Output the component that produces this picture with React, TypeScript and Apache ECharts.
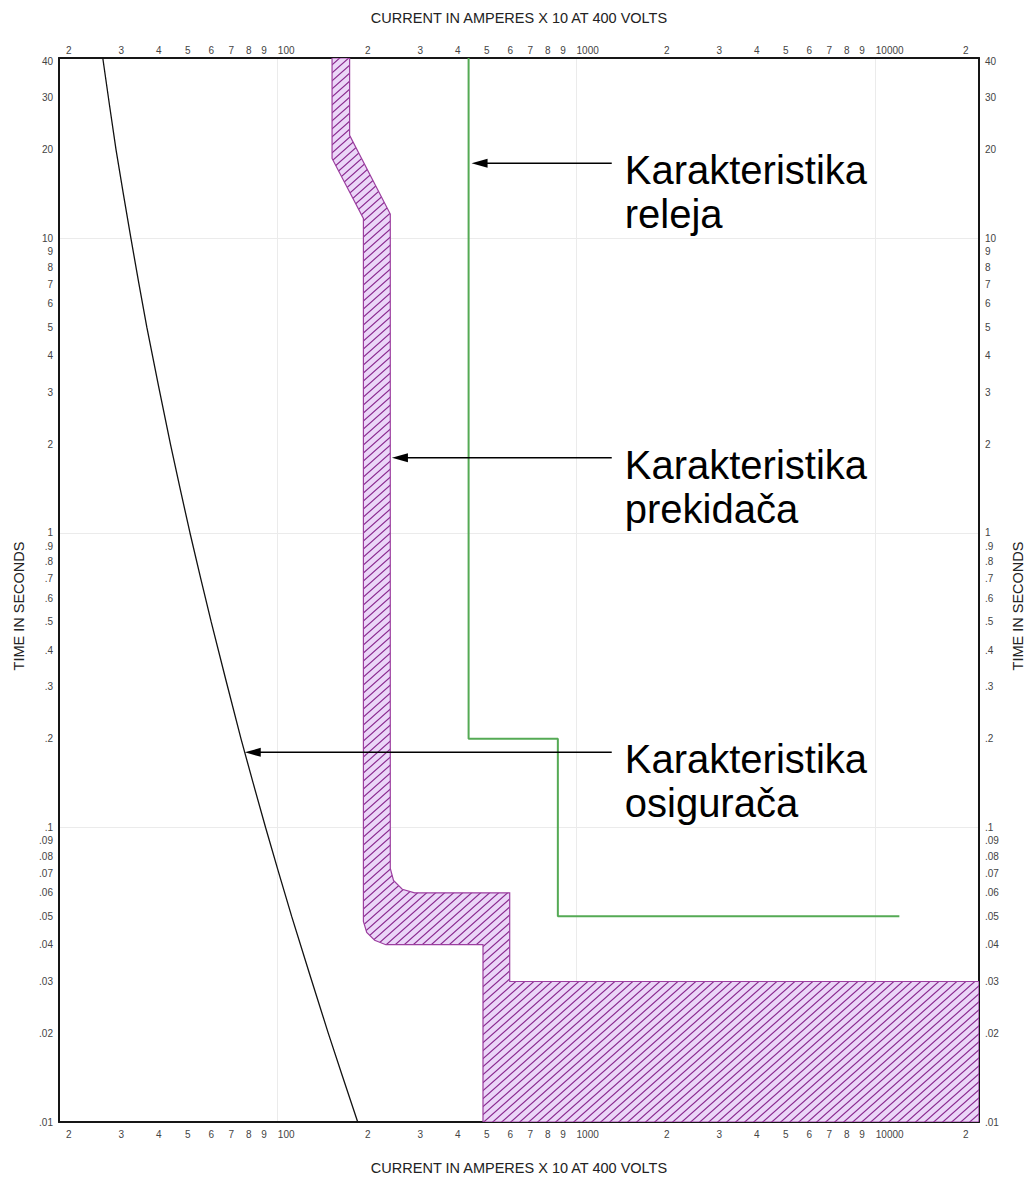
import React, { useEffect, useRef } from "react";
import * as echarts from "echarts";

// ---------- data ----------
const X_MIN = 18.56;
const X_MAX = 22160;
const Y_MIN = 0.01;
const Y_MAX = 41;

const xTickValues = [
  20, 30, 40, 50, 60, 70, 80, 90, 100,
  200, 300, 400, 500, 600, 700, 800, 900, 1000,
  2000, 3000, 4000, 5000, 6000, 7000, 8000, 9000, 10000,
  20000,
];
const xGridValues = [100, 1000, 10000];

const yTickValues = [
  0.01, 0.02, 0.03, 0.04, 0.05, 0.06, 0.07, 0.08, 0.09,
  0.1, 0.2, 0.3, 0.4, 0.5, 0.6, 0.7, 0.8, 0.9,
  1, 2, 3, 4, 5, 6, 7, 8, 9,
  10, 20, 30, 40,
];
const yGridValues = [0.1, 1, 10];

// fuse (osigurač) curve
const fuseCurrent = [26.0, 28.8, 32.3, 36.5, 43.8, 50.9, 59.9, 75.4, 91.1, 111.3, 147.7, 185.2];
const fuseTime = [41, 20, 10, 5, 2, 1, 0.5, 0.2, 0.1, 0.05, 0.02, 0.01];

// relay (relej) curve
const relayCurrent = [435, 435, 865, 865, 12000];
const relayTime = [41, 0.2, 0.2, 0.05, 0.05];

// breaker (prekidač) band outline
const breakerCurrent = [
  152, 152, 193.5, 193.5, 198.5, 211, 230, 486, 486, X_MAX,
  X_MAX, 597, 597, 287, 261, 244, 238, 238, 174, 174,
];
const breakerTime = [
  41, 18.7, 11.7, 0.048, 0.044, 0.0414, 0.04, 0.04, 0.01, 0.01,
  0.03, 0.03, 0.06, 0.06, 0.0617, 0.0661, 0.0726, 12.1, 22.4, 41,
];

// annotations
const annoText = ["Karakteristika\nreleja", "Karakteristika\nprekidača", "Karakteristika\nosigurača"];
const annoTipCurrent = [445, 241, 77.6];
const annoTipTime = [18, 1.8, 0.18];
const annoTailCurrent = [1310, 1310, 1310];

const FONT = "'Liberation Sans', Arial, sans-serif";
const lg = (v: number) => Math.log10(v);

function fmtX(v: number) {
  const n = Math.pow(10, v);
  const e = Math.floor(v + 1e-9);
  const d = Math.round(n / Math.pow(10, e));
  if (d === 1 || d === 10) return `{d${e}|${Math.round(n)}}`;
  return String(d);
}

function fmtY(v: number) {
  const n = Number(Math.pow(10, v).toPrecision(4));
  if (n < 1) return String(n).replace(/^0/, "");
  return String(Math.round(n));
}

export default function App() {
  const ref = useRef<HTMLDivElement>(null);

  useEffect(() => {
    if (!ref.current) return;
    const chart = echarts.init(ref.current, null, { renderer: "svg" });

    // hatch pattern
    const w = 9;
    const h = 8;
    const cv = document.createElement("canvas");
    cv.width = w;
    cv.height = h;
    const ctx = cv.getContext("2d")!;
    ctx.fillStyle = "#EBD6F8";
    ctx.fillRect(0, 0, w, h);
    ctx.strokeStyle = "#8A2A8F";
    ctx.lineWidth = 1.2;
    ctx.beginPath();
    ctx.moveTo(-w / h, h + 1);
    ctx.lineTo(w + w / h, -1);
    ctx.moveTo(-w / h - w, h + 1);
    ctx.lineTo(w / h, -1);
    ctx.moveTo(w - w / h, h + 1);
    ctx.lineTo(2 * w + w / h, -1);
    ctx.stroke();
    const hatch: any = { image: cv, repeat: "repeat", imageWidth: w, imageHeight: h };

    const labelBase = { fontSize: 10, color: "#444", fontFamily: FONT };
    const rich = {
      d2: { ...labelBase, padding: [0, 0, 0, 17] },
      d3: { ...labelBase, padding: [0, 0, 0, 22] },
      d4: { ...labelBase, padding: [0, 0, 0, 28] },
    };

    const axisLine = { show: true, onZero: false, lineStyle: { color: "#161616", width: 2 } };

    const xAxisBase = (position: string, margin: number, grid: boolean) => ({
      type: "value",
      position,
      min: lg(X_MIN),
      max: lg(X_MAX),
      axisLine,
      axisTick: { show: false, customValues: xGridValues.map(lg) },
      splitLine: { show: grid, lineStyle: { color: "#ebebeb", width: 1 } },
      axisLabel: {
        ...labelBase,
        margin,
        customValues: xTickValues.map(lg),
        formatter: fmtX,
        rich,
      },
    });

    const yAxisBase = (position: string, grid: boolean) => ({
      type: "value",
      position,
      min: lg(Y_MIN),
      max: lg(Y_MAX),
      axisLine,
      axisTick: { show: false, customValues: yGridValues.map(lg) },
      splitLine: { show: grid, lineStyle: { color: "#ebebeb", width: 1 } },
      axisLabel: {
        ...labelBase,
        margin: 6,
        customValues: yTickValues.map(lg),
        formatter: fmtY,
      },
    });

    const titleStyle = { fontSize: 14.5, fontFamily: FONT, fill: "#222", align: "center", verticalAlign: "middle" };

    const option: any = {
      animation: false,
      backgroundColor: "#ffffff",
      grid: { left: 59, right: 46, top: 58, bottom: 55, containLabel: false },
      xAxis: [xAxisBase("bottom", 7, true), xAxisBase("top", 3, false)],
      yAxis: [yAxisBase("left", true), yAxisBase("right", false)],
      graphic: [
        { type: "text", x: 519, y: 18, style: { ...titleStyle, text: "CURRENT IN AMPERES X 10 AT 400 VOLTS" } },
        { type: "text", x: 519, y: 1168, style: { ...titleStyle, text: "CURRENT IN AMPERES X 10 AT 400 VOLTS" } },
        { type: "text", x: 19, y: 606, rotation: Math.PI / 2, style: { ...titleStyle, text: "TIME IN SECONDS" } },
        { type: "text", x: 1018, y: 606, rotation: Math.PI / 2, style: { ...titleStyle, text: "TIME IN SECONDS" } },
      ],
      series: [
        {
          type: "custom",
          name: "Karakteristika prekidača",
          clip: true,
          data: [[lg(breakerCurrent[0]), lg(breakerTime[0])]],
          renderItem: (_params: any, api: any) => {
            const pts = breakerCurrent.map((c, i) => api.coord([lg(c), lg(breakerTime[i])]));
            return {
              type: "polygon",
              shape: { points: pts },
              style: { fill: hatch, stroke: "#9C3FA0", lineWidth: 1.2 },
            };
          },
          z: 2,
        },
        {
          type: "line",
          name: "Karakteristika osigurača",
          data: fuseCurrent.map((c, i) => [lg(c), lg(fuseTime[i])]),
          showSymbol: false,
          symbol: "none",
          smooth: 0.2,
          lineStyle: { color: "#111", width: 1.3 },
          z: 3,
        },
        {
          type: "line",
          name: "Karakteristika releja",
          data: relayCurrent.map((c, i) => [lg(c), lg(relayTime[i])]),
          showSymbol: false,
          symbol: "none",
          lineStyle: { color: "#55AA55", width: 2 },
          z: 3,
        },
        {
          type: "custom",
          name: "annotations",
          clip: false,
          data: annoTipCurrent.map((c, i) => [lg(c), lg(annoTipTime[i]), lg(annoTailCurrent[i])]),
          renderItem: (params: any, api: any) => {
            const tip = api.coord([api.value(0), api.value(1)]);
            const tail = api.coord([api.value(2), api.value(1)]);
            const i = params.dataIndex;
            return {
              type: "group",
              children: [
                {
                  type: "line",
                  shape: { x1: tail[0], y1: tip[1], x2: tip[0] + 14, y2: tip[1] },
                  style: { stroke: "#000", lineWidth: 1.6 },
                },
                {
                  type: "polygon",
                  shape: {
                    points: [
                      [tip[0], tip[1]],
                      [tip[0] + 16, tip[1] - 4.5],
                      [tip[0] + 16, tip[1] + 4.5],
                    ],
                  },
                  style: { fill: "#000" },
                },
                {
                  type: "text",
                  x: tail[0] + 13,
                  y: tip[1] - 15,
                  style: {
                    text: annoText[i],
                    fontSize: 40,
                    fontFamily: FONT,
                    fill: "#000",
                    lineHeight: 44,
                    align: "left",
                    verticalAlign: "top",
                  },
                },
              ],
            };
          },
          z: 5,
        },
      ],
    };

    chart.setOption(option);
    return () => chart.dispose();
  }, []);

  return (
    <div
      ref={ref}
      style={{ position: "absolute", left: 0, top: 0, width: 1025, height: 1177, background: "#fff" }}
    />
  );
}
